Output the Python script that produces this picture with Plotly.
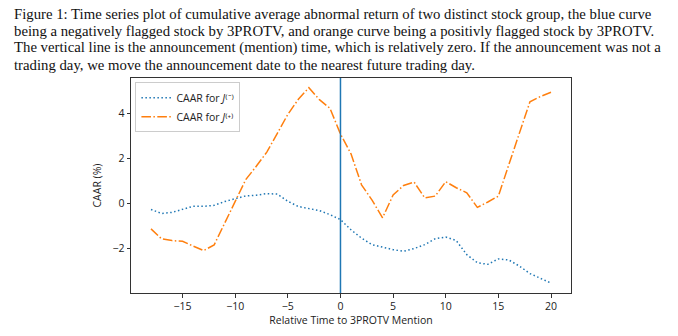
import plotly.graph_objects as go

# Relative trading days around the 3PROTV mention
days = list(range(-18, 21))

# Cumulative average abnormal return (%) for negatively flagged stocks, J(-)
caar_neg = [-0.26, -0.44, -0.39, -0.25, -0.12, -0.12, -0.08, 0.09, 0.22, 0.34,
            0.37, 0.44, 0.42, 0.10, -0.13, -0.23, -0.31, -0.49, -0.71, -1.16,
            -1.53, -1.82, -1.94, -2.04, -2.11, -1.99, -1.82, -1.56, -1.48, -1.64,
            -2.26, -2.62, -2.69, -2.45, -2.50, -2.77, -3.10, -3.32, -3.52]

# Cumulative average abnormal return (%) for positively flagged stocks, J(+)
caar_pos = [-1.12, -1.56, -1.64, -1.67, -1.88, -2.08, -1.83, -0.85, 0.15, 1.06,
            1.65, 2.28, 3.11, 3.95, 4.62, 5.13, 4.60, 4.22, 3.08, 2.20,
            0.83, 0.15, -0.63, 0.38, 0.80, 0.95, 0.25, 0.33, 0.97, 0.70,
            0.48, -0.17, 0.07, 0.33, 1.73, 3.10, 4.51, 4.74, 4.93]

x_ticks = [-15, -10, -5, 0, 5, 10, 15, 20]
y_ticks = [-2, 0, 2, 4]

caption_lines = [
    "Figure 1: Time series plot of cumulative average abnormal return of two distinct stock group, the blue curve",
    "being a negatively flagged stock by 3PROTV, and orange curve being a positivly flagged stock by 3PROTV.",
    "The vertical line is the announcement (mention) time, which is relatively zero. If the announcement was not a",
    "trading day, we move the announcement date to the nearest future trading day.",
]

BLUE = "#1f77b4"
ORANGE = "#ff7f0e"
AXIS = "#333333"

fig = go.Figure()
fig.add_trace(go.Scatter(
    x=days, y=caar_neg, mode="lines",
    name="CAAR for <i>J</i>⁽⁻⁾",
    line=dict(color=BLUE, width=1.5, dash="1.5px,2.5px"),
))
fig.add_trace(go.Scatter(
    x=days, y=caar_pos, mode="lines",
    name="CAAR for <i>J</i>⁽⁺⁾",
    line=dict(color=ORANGE, width=1.5, dash="9.6px,2.4px,1.5px,2.4px"),
))

# announcement (mention) time
fig.add_shape(type="line", xref="x", yref="paper", x0=0, x1=0, y0=0, y1=1,
              line=dict(color=BLUE, width=1.5))

# caption above the plot
W, H = 678, 336
ml, mr, mt, mb = 131, 107, 78, 40
pw, ph = W - ml - mr, H - mt - mb
line_y = [13, 30.5, 47.5, 64.5]
for text, py in zip(caption_lines, line_y):
    fig.add_annotation(
        text=text, xref="paper", yref="paper",
        x=(12 - ml) / pw, y=(H - mb - py) / ph,
        xanchor="left", yanchor="middle", showarrow=False,
        font=dict(family="Liberation Serif", size=14.75, color="#111111"),
    )

axis_common = dict(
    showline=True, linecolor=AXIS, linewidth=1, mirror=True,
    ticks="outside", ticklen=3.5, tickwidth=1, tickcolor=AXIS,
    showgrid=False, zeroline=False,
    tickfont=dict(family="Open Sans", size=10.5, color="#222222"),
)

fig.update_layout(
    width=W, height=H,
    margin=dict(l=ml, r=mr, t=mt, b=mb),
    paper_bgcolor="white", plot_bgcolor="white",
    showlegend=True,
    legend=dict(
        x=0.01, y=0.98, xanchor="left", yanchor="top",
        bgcolor="rgba(255,255,255,0.8)", bordercolor="#cccccc", borderwidth=1,
        font=dict(family="Open Sans", size=10.5, color="#222222"),
        itemwidth=30, tracegroupgap=0,
    ),
    xaxis=dict(
        range=[-19.9, 21.9], tickmode="array", tickvals=x_ticks,
        title=dict(text="Relative Time to 3PROTV Mention", standoff=4,
                   font=dict(family="Open Sans", size=10.5, color="#222222")),
        **axis_common,
    ),
    yaxis=dict(
        range=[-3.96, 5.56], tickmode="array", tickvals=y_ticks,
        title=dict(text="CAAR (%)", standoff=8,
                   font=dict(family="Open Sans", size=10.5, color="#222222")),
        **axis_common,
    ),
)

fig.write_html("out.html")
